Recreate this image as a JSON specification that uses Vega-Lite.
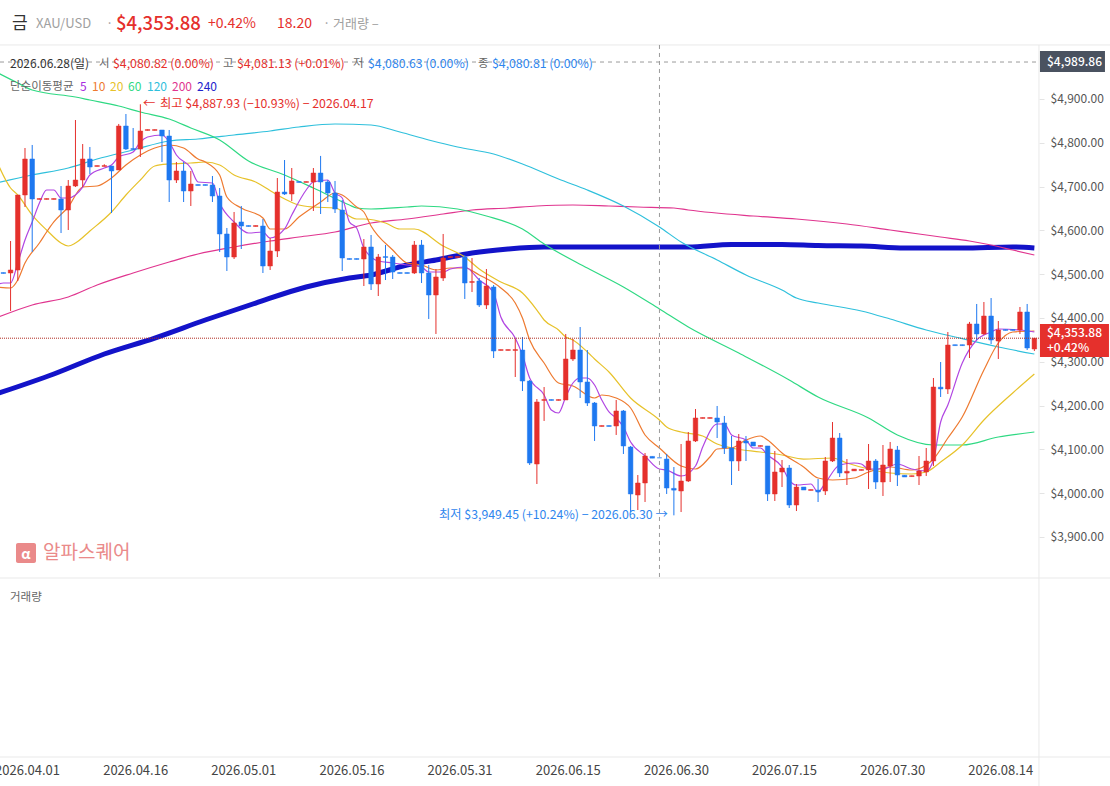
{"$schema":"https://vega.github.io/schema/vega-lite/v6.json","width":1110,"height":786,"padding":0,"autosize":"none","background":"white","config":{"view":{"stroke":null},"font":"Noto Sans CJK KR","text":{"font":"Noto Sans CJK KR","align":"left","baseline":"middle"}},
"datasets":{
"candles":[
{"d":"2026-03-29","o":4503.7,"h":4503.7,"l":4501.7,"c":4501.7},
{"d":"2026-03-30","o":4502.7,"h":4575.8,"l":4416,"c":4509.6},
{"d":"2026-03-31","o":4509.6,"h":4680.8,"l":4484.5,"c":4680.8},
{"d":"2026-04-01","o":4680.8,"h":4788.1,"l":4653.4,"c":4763},
{"d":"2026-04-02","o":4763,"h":4795,"l":4550.7,"c":4671.7},
{"d":"2026-04-03","o":4670.7,"h":4672.7,"l":4670.7,"c":4672.7},
{"d":"2026-04-04","o":4670.7,"h":4672.7,"l":4670.7,"c":4672.7},
{"d":"2026-04-05","o":4670.7,"h":4672.7,"l":4670.7,"c":4672.7},
{"d":"2026-04-06","o":4671.7,"h":4701.3,"l":4594,"c":4646.5},
{"d":"2026-04-07","o":4646.5,"h":4715,"l":4600.9,"c":4701.3},
{"d":"2026-04-08","o":4701.3,"h":4852,"l":4699,"c":4715},
{"d":"2026-04-09","o":4715,"h":4797.2,"l":4699,"c":4763},
{"d":"2026-04-10","o":4763,"h":4790.4,"l":4728.7,"c":4744.7},
{"d":"2026-04-11","o":4746,"h":4748,"l":4746,"c":4748},
{"d":"2026-04-12","o":4746,"h":4751,"l":4746,"c":4748},
{"d":"2026-04-13","o":4747,"h":4747,"l":4639.7,"c":4735.6},
{"d":"2026-04-14","o":4737.9,"h":4843,"l":4737.9,"c":4838.3},
{"d":"2026-04-15","o":4838.3,"h":4865.7,"l":4783.5,"c":4785.8},
{"d":"2026-04-16","o":4786.8,"h":4833.8,"l":4783.5,"c":4784.8},
{"d":"2026-04-17","o":4785.8,"h":4887.93,"l":4767.6,"c":4826.9},
{"d":"2026-04-18","o":4828.2,"h":4830.2,"l":4828.2,"c":4830.2},
{"d":"2026-04-19","o":4828.2,"h":4830.2,"l":4828.2,"c":4830.2},
{"d":"2026-04-20","o":4829.2,"h":4829.2,"l":4756.1,"c":4815.5},
{"d":"2026-04-21","o":4815.5,"h":4829.2,"l":4664.8,"c":4715},
{"d":"2026-04-22","o":4715,"h":4756.1,"l":4708.2,"c":4735.6},
{"d":"2026-04-23","o":4735.6,"h":4756.1,"l":4664.8,"c":4689.9},
{"d":"2026-04-24","o":4689.9,"h":4735.6,"l":4655.7,"c":4705.9},
{"d":"2026-04-25","o":4704.6,"h":4704.6,"l":4702.6,"c":4702.6},
{"d":"2026-04-26","o":4704.6,"h":4704.6,"l":4702.6,"c":4702.6},
{"d":"2026-04-27","o":4703.6,"h":4724.2,"l":4664.8,"c":4678.5},
{"d":"2026-04-28","o":4678.5,"h":4696.8,"l":4550.7,"c":4591.8},
{"d":"2026-04-29","o":4591.8,"h":4605.5,"l":4507.3,"c":4539.2},
{"d":"2026-04-30","o":4539.2,"h":4642,"l":4534.7,"c":4616.9},
{"d":"2026-05-01","o":4619.2,"h":4655.7,"l":4557.5,"c":4610},
{"d":"2026-05-02","o":4611,"h":4611,"l":4609,"c":4609},
{"d":"2026-05-03","o":4609,"h":4611,"l":4609,"c":4611},
{"d":"2026-05-04","o":4610,"h":4626,"l":4502.7,"c":4518.7},
{"d":"2026-05-05","o":4518.7,"h":4582.6,"l":4509.6,"c":4553},
{"d":"2026-05-06","o":4553,"h":4719.6,"l":4539.2,"c":4687.6},
{"d":"2026-05-07","o":4687.6,"h":4760.7,"l":4680.8,"c":4683.1},
{"d":"2026-05-08","o":4683.1,"h":4742.4,"l":4667.1,"c":4712.8},
{"d":"2026-05-09","o":4711.5,"h":4711.5,"l":4709.5,"c":4709.5},
{"d":"2026-05-10","o":4709.5,"h":4711.5,"l":4709.5,"c":4711.5},
{"d":"2026-05-11","o":4710.5,"h":4742.4,"l":4644.3,"c":4731},
{"d":"2026-05-12","o":4731,"h":4770,"l":4637.4,"c":4710.5},
{"d":"2026-05-13","o":4710.5,"h":4715,"l":4664.8,"c":4685.4},
{"d":"2026-05-14","o":4685.4,"h":4712.8,"l":4639.7,"c":4648.8},
{"d":"2026-05-15","o":4646.5,"h":4669.4,"l":4507.3,"c":4537},
{"d":"2026-05-16","o":4535.7,"h":4535.7,"l":4533.7,"c":4533.7},
{"d":"2026-05-17","o":4535.7,"h":4535.7,"l":4533.7,"c":4533.7},
{"d":"2026-05-18","o":4534.7,"h":4580.3,"l":4473,"c":4562.1},
{"d":"2026-05-19","o":4562.1,"h":4589.5,"l":4463.9,"c":4477.6},
{"d":"2026-05-20","o":4477.6,"h":4546.1,"l":4450.2,"c":4539.2},
{"d":"2026-05-21","o":4540.2,"h":4566.6,"l":4486.7,"c":4538.2},
{"d":"2026-05-22","o":4539.2,"h":4543.8,"l":4489,"c":4505},
{"d":"2026-05-23","o":4503.7,"h":4503.7,"l":4501.7,"c":4501.7},
{"d":"2026-05-24","o":4503.7,"h":4503.7,"l":4501.7,"c":4501.7},
{"d":"2026-05-25","o":4502.7,"h":4575.8,"l":4500.4,"c":4566.6},
{"d":"2026-05-26","o":4566.6,"h":4578.1,"l":4479.9,"c":4502.7},
{"d":"2026-05-27","o":4502.7,"h":4521,"l":4397.7,"c":4452.5},
{"d":"2026-05-28","o":4452.5,"h":4511.8,"l":4363.5,"c":4493.6},
{"d":"2026-05-29","o":4491.3,"h":4591.8,"l":4484.5,"c":4537},
{"d":"2026-05-30","o":4538.2,"h":4540.2,"l":4538.2,"c":4540.2},
{"d":"2026-05-31","o":4538.2,"h":4540.2,"l":4538.2,"c":4540.2},
{"d":"2026-06-01","o":4539.2,"h":4543.8,"l":4443.4,"c":4479.9},
{"d":"2026-06-02","o":4481.2,"h":4537,"l":4459.3,"c":4483.2},
{"d":"2026-06-03","o":4484.5,"h":4491.3,"l":4425.1,"c":4429.7},
{"d":"2026-06-04","o":4429.7,"h":4511.8,"l":4420.5,"c":4473},
{"d":"2026-06-05","o":4470.8,"h":4475.3,"l":4308.6,"c":4324.6},
{"d":"2026-06-06","o":4325.9,"h":4327.9,"l":4325.9,"c":4327.9},
{"d":"2026-06-07","o":4325.9,"h":4327.9,"l":4325.9,"c":4327.9},
{"d":"2026-06-08","o":4325.9,"h":4352,"l":4265.3,"c":4327.9},
{"d":"2026-06-09","o":4326.9,"h":4356.6,"l":4233.3,"c":4256.1},
{"d":"2026-06-10","o":4256.1,"h":4258.4,"l":4064.4,"c":4068.9},
{"d":"2026-06-11","o":4066.6,"h":4215,"l":4021,"c":4208.2},
{"d":"2026-06-12","o":4211.8,"h":4242.4,"l":4164.9,"c":4213.8},
{"d":"2026-06-13","o":4213.8,"h":4213.8,"l":4211.8,"c":4211.8},
{"d":"2026-06-14","o":4211.8,"h":4213.8,"l":4211.8,"c":4213.8},
{"d":"2026-06-15","o":4212.8,"h":4363.5,"l":4212.8,"c":4306.4},
{"d":"2026-06-16","o":4306.4,"h":4352,"l":4301.8,"c":4326.9},
{"d":"2026-06-17","o":4326.9,"h":4379.4,"l":4217.3,"c":4253.9},
{"d":"2026-06-18","o":4253.9,"h":4326.9,"l":4199.1,"c":4205.9},
{"d":"2026-06-19","o":4205.9,"h":4208.2,"l":4119.2,"c":4153.4},
{"d":"2026-06-20","o":4152.4,"h":4154.4,"l":4152.4,"c":4154.4},
{"d":"2026-06-21","o":4154.4,"h":4154.4,"l":4152.4,"c":4152.4},
{"d":"2026-06-22","o":4153.4,"h":4212.8,"l":4132.9,"c":4187.7},
{"d":"2026-06-23","o":4187.7,"h":4189.9,"l":4089.5,"c":4107.8},
{"d":"2026-06-24","o":4105.5,"h":4107.8,"l":3957,"c":3998.2},
{"d":"2026-06-25","o":3995.9,"h":4041.5,"l":3961.6,"c":4023.3},
{"d":"2026-06-26","o":4023.3,"h":4091.8,"l":3979.9,"c":4084.9},
{"d":"2026-06-27","o":4084,"h":4084,"l":4080,"c":4080},
{"d":"2026-06-28","o":4080.82,"h":4081.13,"l":4080.63,"c":4080.81},
{"d":"2026-06-29","o":4078,"h":4089.5,"l":3998.2,"c":4011.8},
{"d":"2026-06-30","o":4011,"h":4059.8,"l":3949.45,"c":4007},
{"d":"2026-07-01","o":4005,"h":4112.3,"l":3957,"c":4027.8},
{"d":"2026-07-02","o":4027.8,"h":4139.7,"l":4025.5,"c":4119.2},
{"d":"2026-07-03","o":4119.2,"h":4192.2,"l":4116.9,"c":4171.7},
{"d":"2026-07-04","o":4170.7,"h":4172.7,"l":4170.7,"c":4172.7},
{"d":"2026-07-05","o":4170.7,"h":4172.7,"l":4170.7,"c":4172.7},
{"d":"2026-07-06","o":4171.7,"h":4199.1,"l":4126,"c":4162.5},
{"d":"2026-07-07","o":4160.3,"h":4176.3,"l":4089.5,"c":4103.2},
{"d":"2026-07-08","o":4103.2,"h":4130.6,"l":4018.7,"c":4073.5},
{"d":"2026-07-09","o":4073.5,"h":4135.1,"l":4050.7,"c":4119.2},
{"d":"2026-07-10","o":4119.2,"h":4130.6,"l":4073.5,"c":4114.6},
{"d":"2026-07-11","o":4116.9,"h":4116.9,"l":4107.8,"c":4107.8},
{"d":"2026-07-12","o":4106.8,"h":4108.8,"l":4106.8,"c":4108.8},
{"d":"2026-07-13","o":4107.8,"h":4107.8,"l":3982.2,"c":3998.2},
{"d":"2026-07-14","o":3998.2,"h":4096.3,"l":3982.2,"c":4048.4},
{"d":"2026-07-15","o":4048.4,"h":4075.8,"l":4014.1,"c":4057.5},
{"d":"2026-07-16","o":4057.5,"h":4064.4,"l":3966.2,"c":3973},
{"d":"2026-07-17","o":3973,"h":4021,"l":3959.3,"c":4014.1},
{"d":"2026-07-18","o":4014.1,"h":4014.1,"l":4007.3,"c":4007.3},
{"d":"2026-07-19","o":4006.3,"h":4008.3,"l":4006.3,"c":4008.3},
{"d":"2026-07-20","o":4007,"h":4032.4,"l":3979.9,"c":4003},
{"d":"2026-07-21","o":4005,"h":4082.6,"l":3995.9,"c":4073.5},
{"d":"2026-07-22","o":4073.5,"h":4162.5,"l":4071.2,"c":4126},
{"d":"2026-07-23","o":4126,"h":4137.4,"l":4037,"c":4046.1},
{"d":"2026-07-24","o":4046,"h":4078,"l":4018.7,"c":4050},
{"d":"2026-07-25","o":4051,"h":4055,"l":4051,"c":4055},
{"d":"2026-07-26","o":4052,"h":4054,"l":4052,"c":4054},
{"d":"2026-07-27","o":4053,"h":4112.3,"l":4009.6,"c":4073.5},
{"d":"2026-07-28","o":4073.5,"h":4078,"l":4009.6,"c":4025.5},
{"d":"2026-07-29","o":4025.5,"h":4110,"l":3993.6,"c":4064.4},
{"d":"2026-07-30","o":4062.1,"h":4116.9,"l":4025.5,"c":4100.9},
{"d":"2026-07-31","o":4098.6,"h":4107.8,"l":4016.4,"c":4041.5},
{"d":"2026-08-01","o":4041,"h":4041,"l":4037,"c":4037},
{"d":"2026-08-02","o":4038,"h":4040,"l":4038,"c":4040},
{"d":"2026-08-03","o":4039.2,"h":4084.9,"l":4018.7,"c":4050.7},
{"d":"2026-08-04","o":4048.4,"h":4103.2,"l":4039.2,"c":4073.5},
{"d":"2026-08-05","o":4073.5,"h":4263,"l":4062.1,"c":4242.4},
{"d":"2026-08-06","o":4242,"h":4299.5,"l":4219.6,"c":4238},
{"d":"2026-08-07","o":4237.9,"h":4368,"l":4226.5,"c":4338.3},
{"d":"2026-08-08","o":4339,"h":4339,"l":4337,"c":4337},
{"d":"2026-08-09","o":4339,"h":4339,"l":4337,"c":4337},
{"d":"2026-08-10","o":4338.3,"h":4391,"l":4308.6,"c":4386.3},
{"d":"2026-08-11","o":4386.3,"h":4432,"l":4349.7,"c":4363.5},
{"d":"2026-08-12","o":4363.5,"h":4436.5,"l":4361.2,"c":4404.5},
{"d":"2026-08-13","o":4404.5,"h":4445.6,"l":4340.6,"c":4349.7},
{"d":"2026-08-14","o":4347.5,"h":4393.1,"l":4306.4,"c":4372.6},
{"d":"2026-08-15","o":4373.6,"h":4373.6,"l":4371.6,"c":4371.6},
{"d":"2026-08-16","o":4373.6,"h":4373.6,"l":4371.6,"c":4371.6},
{"d":"2026-08-17","o":4372.6,"h":4425.1,"l":4363.5,"c":4413.7},
{"d":"2026-08-18","o":4413.7,"h":4432,"l":4326.9,"c":4331.5},
{"d":"2026-08-19","o":4329.2,"h":4354.3,"l":4324.6,"c":4353.88}
],
"ma5":[{"d":"2026-03-28","v":4475.3},{"d":"2026-03-29","v":4479.9},{"d":"2026-03-30","v":4479.9},{"d":"2026-03-31","v":4525.6},{"d":"2026-04-01","v":4578.1},{"d":"2026-04-02","v":4619.2},{"d":"2026-04-03","v":4662.5},{"d":"2026-04-04","v":4692.2},{"d":"2026-04-05","v":4692.2},{"d":"2026-04-06","v":4674},{"d":"2026-04-07","v":4674},{"d":"2026-04-08","v":4680.8},{"d":"2026-04-09","v":4699},{"d":"2026-04-10","v":4726.5},{"d":"2026-04-12","v":4742.4},{"d":"2026-04-13","v":4749.3},{"d":"2026-04-14","v":4767.6},{"d":"2026-04-16","v":4779},{"d":"2026-04-17","v":4801.8},{"d":"2026-04-18","v":4813.2},{"d":"2026-04-20","v":4817.8},{"d":"2026-04-21","v":4801.8},{"d":"2026-04-22","v":4772.1},{"d":"2026-04-24","v":4742.4},{"d":"2026-04-25","v":4710.5},{"d":"2026-04-27","v":4708.2},{"d":"2026-04-28","v":4662.5},{"d":"2026-04-30","v":4619.2},{"d":"2026-05-02","v":4594},{"d":"2026-05-04","v":4596.3},{"d":"2026-05-05","v":4582.6},{"d":"2026-05-07","v":4603.2},{"d":"2026-05-08","v":4635.1},{"d":"2026-05-10","v":4692.2},{"d":"2026-05-11","v":4710.5},{"d":"2026-05-13","v":4715},{"d":"2026-05-14","v":4685.4},{"d":"2026-05-15","v":4674},{"d":"2026-05-16","v":4619.2},{"d":"2026-05-17","v":4605.5},{"d":"2026-05-18","v":4559.8},{"d":"2026-05-20","v":4530.1},{"d":"2026-05-22","v":4525.6},{"d":"2026-05-24","v":4521},{"d":"2026-05-26","v":4516.4},{"d":"2026-05-27","v":4505},{"d":"2026-05-29","v":4505},{"d":"2026-05-30","v":4511.8},{"d":"2026-06-01","v":4516.4},{"d":"2026-06-03","v":4486.7},{"d":"2026-06-05","v":4457.1},{"d":"2026-06-06","v":4402.3},{"d":"2026-06-08","v":4354.3},{"d":"2026-06-09","v":4315.5},{"d":"2026-06-10","v":4263},{"d":"2026-06-12","v":4224.2},{"d":"2026-06-13","v":4190},{"d":"2026-06-14","v":4183.1},{"d":"2026-06-15","v":4219.6},{"d":"2026-06-16","v":4251.6},{"d":"2026-06-17","v":4263},{"d":"2026-06-18","v":4263},{"d":"2026-06-19","v":4247},{"d":"2026-06-20","v":4212.8},{"d":"2026-06-21","v":4185.4},{"d":"2026-06-22","v":4171.7},{"d":"2026-06-23","v":4151.1},{"d":"2026-06-24","v":4116.9},{"d":"2026-06-26","v":4084.9},{"d":"2026-06-28","v":4055.2},{"d":"2026-06-29","v":4053},{"d":"2026-07-01","v":4039.2},{"d":"2026-07-03","v":4062.1},{"d":"2026-07-04","v":4105.5},{"d":"2026-07-06","v":4158},{"d":"2026-07-07","v":4158},{"d":"2026-07-08","v":4132.9},{"d":"2026-07-10","v":4121.4},{"d":"2026-07-11","v":4103.2},{"d":"2026-07-12","v":4103.2},{"d":"2026-07-13","v":4087.2},{"d":"2026-07-15","v":4059.8},{"d":"2026-07-16","v":4030.1},{"d":"2026-07-17","v":4018.7},{"d":"2026-07-19","v":4021},{"d":"2026-07-20","v":4002.7},{"d":"2026-07-21","v":4023.3},{"d":"2026-07-23","v":4064.4},{"d":"2026-07-25","v":4068.9},{"d":"2026-07-26","v":4066.6},{"d":"2026-07-27","v":4055.2},{"d":"2026-07-29","v":4055.2},{"d":"2026-07-31","v":4066.6},{"d":"2026-08-02","v":4055.2},{"d":"2026-08-04","v":4050.7},{"d":"2026-08-05","v":4075.8},{"d":"2026-08-06","v":4162.5},{"d":"2026-08-07","v":4201.3},{"d":"2026-08-09","v":4297.2},{"d":"2026-08-11","v":4349.7},{"d":"2026-08-13","v":4368},{"d":"2026-08-14","v":4374.9},{"d":"2026-08-17","v":4372.6},{"d":"2026-08-19","v":4368}],
"ma10":[{"d":"2026-03-28","v":4470.8},{"d":"2026-03-30","v":4468.5},{"d":"2026-03-31","v":4486.7},{"d":"2026-04-01","v":4525.6},{"d":"2026-04-03","v":4571.2},{"d":"2026-04-04","v":4596.3},{"d":"2026-04-05","v":4619.2},{"d":"2026-04-07","v":4653.4},{"d":"2026-04-09","v":4699},{"d":"2026-04-11","v":4701.3},{"d":"2026-04-13","v":4719.6},{"d":"2026-04-15","v":4749.3},{"d":"2026-04-17","v":4772.1},{"d":"2026-04-19","v":4788.1},{"d":"2026-04-21","v":4795},{"d":"2026-04-23","v":4788.1},{"d":"2026-04-25","v":4763},{"d":"2026-04-26","v":4756.1},{"d":"2026-04-28","v":4726.5},{"d":"2026-04-29","v":4676.2},{"d":"2026-05-01","v":4651.1},{"d":"2026-05-04","v":4628.3},{"d":"2026-05-05","v":4603.2},{"d":"2026-05-07","v":4603.2},{"d":"2026-05-09","v":4630.6},{"d":"2026-05-12","v":4664.8},{"d":"2026-05-14","v":4685.4},{"d":"2026-05-15","v":4680.8},{"d":"2026-05-17","v":4653.4},{"d":"2026-05-18","v":4642},{"d":"2026-05-19","v":4610},{"d":"2026-05-22","v":4555.2},{"d":"2026-05-24","v":4525.6},{"d":"2026-05-26","v":4521},{"d":"2026-05-28","v":4509.6},{"d":"2026-05-30","v":4514.1},{"d":"2026-06-01","v":4514.1},{"d":"2026-06-03","v":4498.2},{"d":"2026-06-06","v":4468.5},{"d":"2026-06-08","v":4434.2},{"d":"2026-06-09","v":4400},{"d":"2026-06-10","v":4349.7},{"d":"2026-06-12","v":4297.2},{"d":"2026-06-14","v":4251.6},{"d":"2026-06-16","v":4244.7},{"d":"2026-06-19","v":4217.3},{"d":"2026-06-20","v":4224.2},{"d":"2026-06-22","v":4217.3},{"d":"2026-06-24","v":4194.5},{"d":"2026-06-26","v":4132.9},{"d":"2026-06-28","v":4103.2},{"d":"2026-07-01","v":4062.1},{"d":"2026-07-03","v":4055.2},{"d":"2026-07-05","v":4082.6},{"d":"2026-07-06","v":4100.9},{"d":"2026-07-08","v":4103.2},{"d":"2026-07-10","v":4121.4},{"d":"2026-07-12","v":4130.6},{"d":"2026-07-13","v":4121.4},{"d":"2026-07-15","v":4091.8},{"d":"2026-07-18","v":4059.8},{"d":"2026-07-20","v":4034.7},{"d":"2026-07-22","v":4030.1},{"d":"2026-07-25","v":4034.7},{"d":"2026-07-27","v":4048.4},{"d":"2026-07-30","v":4059.8},{"d":"2026-08-02","v":4053},{"d":"2026-08-04","v":4064.4},{"d":"2026-08-05","v":4078},{"d":"2026-08-07","v":4126},{"d":"2026-08-09","v":4173.9},{"d":"2026-08-12","v":4281.3},{"d":"2026-08-14","v":4342.9},{"d":"2026-08-16","v":4368},{"d":"2026-08-19","v":4370.3}],
"ma20":[{"d":"2026-03-28","v":4760.7},{"d":"2026-03-30","v":4696.8},{"d":"2026-03-31","v":4680.8},{"d":"2026-04-02","v":4635.1},{"d":"2026-04-04","v":4600.9},{"d":"2026-04-06","v":4571.2},{"d":"2026-04-07","v":4564.4},{"d":"2026-04-08","v":4571.2},{"d":"2026-04-10","v":4598.6},{"d":"2026-04-13","v":4642},{"d":"2026-04-15","v":4680.8},{"d":"2026-04-17","v":4715},{"d":"2026-04-19","v":4747},{"d":"2026-04-21","v":4751.6},{"d":"2026-04-24","v":4753.9},{"d":"2026-04-26","v":4756.1},{"d":"2026-04-28","v":4749.3},{"d":"2026-04-30","v":4726.5},{"d":"2026-05-03","v":4710.5},{"d":"2026-05-06","v":4680.8},{"d":"2026-05-09","v":4658},{"d":"2026-05-11","v":4653.4},{"d":"2026-05-14","v":4651.1},{"d":"2026-05-17","v":4626},{"d":"2026-05-18","v":4626},{"d":"2026-05-21","v":4616.9},{"d":"2026-05-23","v":4603.2},{"d":"2026-05-25","v":4603.2},{"d":"2026-05-29","v":4564.4},{"d":"2026-06-01","v":4539.2},{"d":"2026-06-03","v":4511.8},{"d":"2026-06-06","v":4482.2},{"d":"2026-06-09","v":4457.1},{"d":"2026-06-11","v":4418.2},{"d":"2026-06-12","v":4395.4},{"d":"2026-06-14","v":4372.6},{"d":"2026-06-15","v":4356.6},{"d":"2026-06-16","v":4349.7},{"d":"2026-06-18","v":4322.3},{"d":"2026-06-19","v":4306.4},{"d":"2026-06-21","v":4276.7},{"d":"2026-06-24","v":4217.3},{"d":"2026-06-28","v":4167.1},{"d":"2026-06-29","v":4151.1},{"d":"2026-07-01","v":4139.7},{"d":"2026-07-04","v":4130.6},{"d":"2026-07-06","v":4112.3},{"d":"2026-07-08","v":4103.2},{"d":"2026-07-12","v":4094},{"d":"2026-07-15","v":4087.2},{"d":"2026-07-18","v":4078},{"d":"2026-07-22","v":4080.3},{"d":"2026-07-24","v":4068.9},{"d":"2026-07-27","v":4055.2},{"d":"2026-07-30","v":4046.1},{"d":"2026-08-02","v":4043.8},{"d":"2026-08-04","v":4048.4},{"d":"2026-08-06","v":4071.2},{"d":"2026-08-09","v":4110},{"d":"2026-08-12","v":4167.1},{"d":"2026-08-16","v":4228.8},{"d":"2026-08-19","v":4272.1}],
"ma60":[{"d":"2026-03-28","v":4961.6},{"d":"2026-03-31","v":4936.5},{"d":"2026-04-02","v":4920.5},{"d":"2026-04-08","v":4904.5},{"d":"2026-04-10","v":4897.7},{"d":"2026-04-14","v":4884},{"d":"2026-04-17","v":4870.3},{"d":"2026-04-21","v":4854.3},{"d":"2026-04-24","v":4833.8},{"d":"2026-04-28","v":4806.4},{"d":"2026-05-02","v":4758.4},{"d":"2026-05-07","v":4726.5},{"d":"2026-05-11","v":4696.8},{"d":"2026-05-16","v":4658},{"d":"2026-05-17","v":4651.1},{"d":"2026-05-19","v":4648.8},{"d":"2026-05-24","v":4653.4},{"d":"2026-05-26","v":4655.7},{"d":"2026-05-31","v":4648.8},{"d":"2026-06-04","v":4632.8},{"d":"2026-06-09","v":4603.2},{"d":"2026-06-12","v":4568.9},{"d":"2026-06-18","v":4514.1},{"d":"2026-06-23","v":4470.8},{"d":"2026-06-28","v":4420.5},{"d":"2026-07-02","v":4379.4},{"d":"2026-07-09","v":4320.1},{"d":"2026-07-16","v":4258.4},{"d":"2026-07-20","v":4219.6},{"d":"2026-07-27","v":4171.7},{"d":"2026-07-31","v":4132.9},{"d":"2026-08-05","v":4110},{"d":"2026-08-09","v":4110},{"d":"2026-08-14","v":4128.3},{"d":"2026-08-19","v":4139.7}],
"ma120":[{"d":"2026-03-28","v":4708.2},{"d":"2026-04-02","v":4726.5},{"d":"2026-04-07","v":4742.4},{"d":"2026-04-11","v":4763},{"d":"2026-04-16","v":4783.5},{"d":"2026-04-21","v":4804.1},{"d":"2026-04-25","v":4808.6},{"d":"2026-04-30","v":4817.8},{"d":"2026-05-05","v":4826.9},{"d":"2026-05-09","v":4836},{"d":"2026-05-14","v":4842.9},{"d":"2026-05-19","v":4840.6},{"d":"2026-05-23","v":4824.6},{"d":"2026-05-27","v":4806.4},{"d":"2026-05-31","v":4790.4},{"d":"2026-06-05","v":4774.4},{"d":"2026-06-09","v":4751.6},{"d":"2026-06-14","v":4717.3},{"d":"2026-06-18","v":4692.2},{"d":"2026-06-23","v":4655.7},{"d":"2026-06-28","v":4607.7},{"d":"2026-07-01","v":4573.5},{"d":"2026-07-06","v":4532.4},{"d":"2026-07-10","v":4498.2},{"d":"2026-07-15","v":4463.9},{"d":"2026-07-17","v":4445.6},{"d":"2026-07-20","v":4434.2},{"d":"2026-07-26","v":4416},{"d":"2026-07-30","v":4397.7},{"d":"2026-08-04","v":4372.6},{"d":"2026-08-08","v":4356.6},{"d":"2026-08-14","v":4333.8},{"d":"2026-08-19","v":4317.8}],
"ma200":[{"d":"2026-03-28","v":4400},{"d":"2026-04-02","v":4429.7},{"d":"2026-04-07","v":4447.9},{"d":"2026-04-11","v":4475.3},{"d":"2026-04-16","v":4502.7},{"d":"2026-04-21","v":4527.8},{"d":"2026-04-25","v":4546.1},{"d":"2026-04-30","v":4562.1},{"d":"2026-05-05","v":4575.8},{"d":"2026-05-09","v":4584.9},{"d":"2026-05-14","v":4596.3},{"d":"2026-05-19","v":4616.9},{"d":"2026-05-24","v":4626},{"d":"2026-05-29","v":4637.4},{"d":"2026-06-02","v":4646.5},{"d":"2026-06-07","v":4651.1},{"d":"2026-06-11","v":4655.7},{"d":"2026-06-16","v":4658},{"d":"2026-06-21","v":4655.7},{"d":"2026-06-25","v":4653.4},{"d":"2026-06-30","v":4651.1},{"d":"2026-07-02","v":4646.5},{"d":"2026-07-11","v":4632.8},{"d":"2026-07-17","v":4626},{"d":"2026-07-24","v":4614.6},{"d":"2026-07-30","v":4600.9},{"d":"2026-08-03","v":4591.8},{"d":"2026-08-06","v":4584.9},{"d":"2026-08-10","v":4575.8},{"d":"2026-08-13","v":4566.6},{"d":"2026-08-16","v":4555.2},{"d":"2026-08-19","v":4543.8}],
"ma240":[{"d":"2026-03-28","v":4226.5},{"d":"2026-04-05","v":4272.1},{"d":"2026-04-12","v":4317.8},{"d":"2026-04-19","v":4354.3},{"d":"2026-04-26","v":4395.4},{"d":"2026-05-03","v":4434.2},{"d":"2026-05-10","v":4470.8},{"d":"2026-05-16","v":4491.3},{"d":"2026-05-19","v":4498.2},{"d":"2026-05-24","v":4521},{"d":"2026-05-28","v":4532.4},{"d":"2026-06-02","v":4548.4},{"d":"2026-06-07","v":4557.5},{"d":"2026-06-12","v":4562.1},{"d":"2026-06-20","v":4562.1},{"d":"2026-06-28","v":4562.1},{"d":"2026-07-02","v":4562.1},{"d":"2026-07-08","v":4567.8},{"d":"2026-07-15","v":4567.8},{"d":"2026-07-20","v":4565.5},{"d":"2026-07-26","v":4564.4},{"d":"2026-08-01","v":4559.8},{"d":"2026-08-09","v":4559.8},{"d":"2026-08-16","v":4562.1},{"d":"2026-08-19","v":4559.8}]
},
"encoding":{
"x":{"field":"d","type":"temporal","title":null,"scale":{"type":"utc","domain":[1774702080000,1788003960000],"nice":false,"padding":0},"axis":{"orient":"bottom","offset":-29,"values":[1775001600000,1776297600000,1777593600000,1778889600000,1780185600000,1781481600000,1782777600000,1784073600000,1785369600000,1786665600000],"labelExpr":"utcFormat(datum.value,'%Y.%m.%d')","labelOffset":2,"domain":false,"ticks":false,"grid":false,"labelColor":"#444444","labelFontSize":13,"labelPadding":7,"labelOverlap":false,"labelFlush":false}},
"y":{"field":"v","type":"quantitative","title":null,"scale":{"domain":[3331.5,5126],"nice":false,"zero":false},"axis":{"orient":"right","offset":-71,"values":[3900,4000,4100,4200,4300,4400,4500,4600,4700,4800,4900],"format":"$,.2f","domain":false,"grid":false,"ticks":true,"tickSize":5,"tickColor":"#e4e4e4","labelColor":"#555555","labelFontSize":12,"labelPadding":6,"labelOverlap":false,"labelFlush":false}}
},
"layer":[
{"data":{"values":[{"d":1774702080000,"d2":1788003960000,"v":5023.3},{"d":1774702080000,"d2":1788003960000,"v":3806.4},{"d":1774702080000,"d2":1788003960000,"v":3397.7}]},"mark":{"type":"rule","color":"#e9e9e9","strokeWidth":1},"encoding":{"x2":{"field":"d2"}}},
{"data":{"values":[{"d":1787152723000,"v":5023.3,"v2":3331.5}]},"mark":{"type":"rule","color":"#e9e9e9","strokeWidth":1},"encoding":{"y2":{"field":"v2"}}},
{"data":{"name":"ma240"},"mark":{"type":"line","color":"#1313c9","strokeWidth":5,"clip":true,"interpolate":"monotone"}},
{"data":{"name":"ma200"},"mark":{"type":"line","color":"#e0358f","strokeWidth":1.2,"clip":true,"interpolate":"monotone"}},
{"data":{"name":"ma120"},"mark":{"type":"line","color":"#2fc0dc","strokeWidth":1.2,"clip":true,"interpolate":"monotone"}},
{"data":{"name":"ma60"},"mark":{"type":"line","color":"#2fd983","strokeWidth":1.2,"clip":true,"interpolate":"monotone"}},
{"data":{"name":"ma20"},"mark":{"type":"line","color":"#e7c22a","strokeWidth":1.2,"clip":true,"interpolate":"monotone"}},
{"data":{"name":"ma10"},"mark":{"type":"line","color":"#ee7a30","strokeWidth":1.2,"clip":true,"interpolate":"monotone"}},
{"data":{"name":"ma5"},"mark":{"type":"line","color":"#b146e2","strokeWidth":1.2,"clip":true,"interpolate":"monotone"}},
{"data":{"name":"candles"},"mark":{"type":"rule","strokeWidth":1,"clip":true},"encoding":{"y":{"field":"l","type":"quantitative","title":null,"axis":{"orient":"right","offset":-71,"values":[3900,4000,4100,4200,4300,4400,4500,4600,4700,4800,4900],"format":"$,.2f","domain":false,"grid":false,"ticks":true,"tickSize":5,"tickColor":"#e4e4e4","labelColor":"#555555","labelFontSize":12,"labelPadding":6,"labelOverlap":false,"labelFlush":false}},"y2":{"field":"h"},"color":{"condition":{"test":"datum.c>=datum.o","value":"#e5302c"},"value":"#1e78f0"}}},
{"data":{"name":"candles"},"mark":{"type":"bar","size":4.6,"strokeWidth":0.5,"clip":true},"encoding":{"y":{"field":"o","type":"quantitative","title":null,"axis":{"orient":"right","offset":-71,"values":[3900,4000,4100,4200,4300,4400,4500,4600,4700,4800,4900],"format":"$,.2f","domain":false,"grid":false,"ticks":true,"tickSize":5,"tickColor":"#e4e4e4","labelColor":"#555555","labelFontSize":12,"labelPadding":6,"labelOverlap":false,"labelFlush":false}},"y2":{"field":"c"},"fill":{"condition":{"test":"datum.c>=datum.o","value":"#e5302c"},"value":"#1e78f0"},"stroke":{"condition":{"test":"datum.c>=datum.o","value":"#e5302c"},"value":"#1e78f0"}}},
{"data":{"values":[{"d":1774702080000,"d2":1787152723000,"v":4353.88}]},"mark":{"type":"rule","color":"#b02a20","strokeWidth":1,"strokeDash":[1,1]},"encoding":{"x2":{"field":"d2"}}},
{"data":{"values":[{"d":1774702080000,"d2":1787152723000,"v":4984.4}]},"mark":{"type":"rule","color":"#9a9a9a","strokeWidth":1,"strokeDash":[4,4]},"encoding":{"x2":{"field":"d2"}}},
{"data":{"values":[{"d":"2026-06-28","v":5023.3,"v2":3806.4}]},"mark":{"type":"rule","color":"#9a9a9a","strokeWidth":1,"strokeDash":[4,4]},"encoding":{"y2":{"field":"v2"}}},
{"data":{"values":[{"d":1787164706000,"d2":1787991558000,"v":4386.3,"v2":4310.9}]},"mark":{"type":"rect","color":"#e5302c"},"encoding":{"x2":{"field":"d2"},"y2":{"field":"v2"}}},
{"data":{"values":[{"d":1787164706000,"d2":1787943624000,"v":5009.6,"v2":4961.6}]},"mark":{"type":"rect","color":"#4a5260"},"encoding":{"x2":{"field":"d2"},"y2":{"field":"v2"}}},
{"data":{"values":[{"d":1774893750000,"d2":1775133417000,"v":3886.3,"v2":3840.6}]},"mark":{"type":"rect","color":"#ea8a8a","cornerRadius":2},"encoding":{"x2":{"field":"d2"},"y2":{"field":"v2"}}},
{"data":{"values":[{"d":1775013583000,"v":3860,"s":"α"}]},"mark":{"type":"text","color":"#ffffff","fontSize":14,"fontWeight":"bold","align":"center"},"encoding":{"text":{"field":"s"}}},
{"data":{"values":[{"d":1775217300000,"v":3863.4,"s":"알파스퀘어"}]},"mark":{"type":"text","color":"#ea8a8a","fontSize":19},"encoding":{"text":{"field":"s"}}},
{"data":{"values":[{"d":1787248590000,"v":4365.7,"s":"$4,353.88"},{"d":1787248590000,"v":4331.5,"s":"+0.42%"},{"d":1787248590000,"v":4984.4,"s":"$4,989.86"}]},"mark":{"type":"text","color":"#ffffff","fontSize":12,"fontWeight":500},"encoding":{"text":{"field":"s"}}},
{"data":{"values":[{"d":1774845816000,"v":5071.2,"s":"금"}]},"mark":{"type":"text","color":"#333333","fontSize":17},"encoding":{"text":{"field":"s"}}},
{"data":{"values":[{"d":1775133417000,"v":5071.2,"s":"XAU/USD"},{"d":1775972252000,"v":5071.2,"s":"·"},{"d":1778572640000,"v":5071.2,"s":"·"},{"d":1778692474000,"v":5071.2,"s":"거래량 –"}]},"mark":{"type":"text","color":"#a0a0a0","fontSize":13},"encoding":{"text":{"field":"s"}}},
{"data":{"values":[{"d":1776092085000,"v":5071.2,"s":"$4,353.88"}]},"mark":{"type":"text","color":"#e5302c","fontSize":18.5,"fontWeight":500},"encoding":{"text":{"field":"s"}}},
{"data":{"values":[{"d":1777194554000,"v":5071.2,"s":"+0.42%"},{"d":1778021406000,"v":5071.2,"s":"18.20"}]},"mark":{"type":"text","color":"#e5302c","fontSize":14},"encoding":{"text":{"field":"s"}}},
{"data":{"values":[{"d":1774821850000,"v":4979.9,"s":"2026.06.28(일)"}]},"mark":{"type":"text","color":"#333333","fontSize":12},"encoding":{"text":{"field":"s"}}},
{"data":{"values":[{"d":1775888368000,"v":4979.9,"s":"시"},{"d":1777374304000,"v":4979.9,"s":"고"},{"d":1778932141000,"v":4979.9,"s":"저"},{"d":1780430060000,"v":4979.9,"s":"종"},{"d":1774821850000,"v":4927.4,"s":"단순이동평균"},{"d":1774821850000,"v":3760.7,"s":"거래량"}]},"mark":{"type":"text","color":"#666666","fontSize":11.5},"encoding":{"text":{"field":"s"}}},
{"data":{"values":[{"d":1776056135000,"v":4979.9,"s":"$4,080.82 (0.00%)"},{"d":1777542071000,"v":4979.9,"s":"$4,081.13 (+0.01%)"},{"d":1776415636000,"v":4888.6,"s":"←"},{"d":1776619353000,"v":4888.6,"s":"최고 $4,887.93 (−10.93%) − 2026.04.17"}]},"mark":{"type":"text","color":"#e5302c","fontSize":12.3},"encoding":{"text":{"field":"s"}}},
{"data":{"values":[{"d":1779111891000,"v":4979.9,"s":"$4,080.63 (0.00%)"},{"d":1780597827000,"v":4979.9,"s":"$4,080.81 (0.00%)"},{"d":1779962709000,"v":3950.2,"s":"최저 $3,949.45 (+10.24%) − 2026.06.30 →"}]},"mark":{"type":"text","color":"#2f86ee","fontSize":12.3},"encoding":{"text":{"field":"s"}}},
{"data":{"values":[{"d":1775660685000,"v":4927.4,"s":"5"}]},"mark":{"type":"text","color":"#a82be0","fontSize":12},"encoding":{"text":{"field":"s"}}},
{"data":{"values":[{"d":1775804485000,"v":4927.4,"s":"10"}]},"mark":{"type":"text","color":"#ee7a30","fontSize":12},"encoding":{"text":{"field":"s"}}},
{"data":{"values":[{"d":1776020185000,"v":4927.4,"s":"20"}]},"mark":{"type":"text","color":"#e7c22a","fontSize":12},"encoding":{"text":{"field":"s"}}},
{"data":{"values":[{"d":1776235886000,"v":4927.4,"s":"60"}]},"mark":{"type":"text","color":"#2fd983","fontSize":12},"encoding":{"text":{"field":"s"}}},
{"data":{"values":[{"d":1776463569000,"v":4927.4,"s":"120"}]},"mark":{"type":"text","color":"#2fc0dc","fontSize":12},"encoding":{"text":{"field":"s"}}},
{"data":{"values":[{"d":1776763153000,"v":4927.4,"s":"200"}]},"mark":{"type":"text","color":"#e0358f","fontSize":12},"encoding":{"text":{"field":"s"}}},
{"data":{"values":[{"d":1777062737000,"v":4927.4,"s":"240"}]},"mark":{"type":"text","color":"#2222cc","fontSize":12},"encoding":{"text":{"field":"s"}}}
]}
